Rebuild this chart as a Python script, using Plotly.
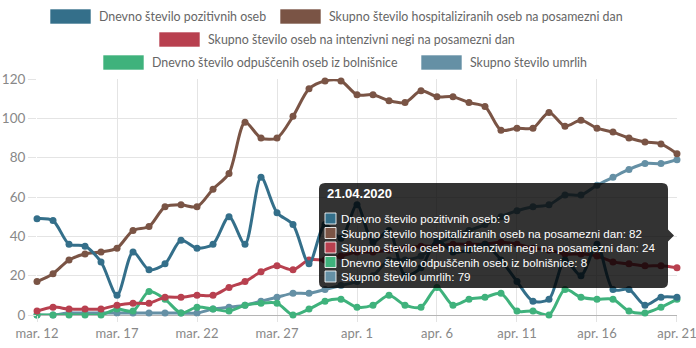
import plotly.graph_objects as go
import pandas as pd

# ---------------- data ----------------
dates = pd.date_range("2020-03-12", "2020-04-21", freq="D").strftime("%Y-%m-%d").tolist()

positive = [49, 48, 36, 35, 27, 10, 32, 23, 26, 38, 34, 36, 50, 36, 70, 52, 46, 26, 46, 39,
            56, 37, 43, 20, 24, 38, 32, 33, 36, 28, 17, 7, 8, 28, 20, 36, 13, 13, 5, 9, 9]
hospitalized = [17, 21, 28, 31, 32, 34, 43, 45, 55, 56, 55, 64, 72, 98, 90, 90, 101, 115, 119, 119,
                112, 112, 109, 108, 114, 111, 111, 108, 106, 94, 95, 95, 103, 96, 99, 95, 93, 90, 88, 87, 82]
intensive = [2, 4, 3, 3, 3, 5, 6, 6, 9, 9, 10, 10, 14, 17, 22, 25, 23, 28, 28, 30,
             32, 32, 33, 34, 35, 35, 36, 36, 36, 37, 36, 34, 33, 31, 31, 30, 27, 26, 25, 25, 24]
discharged = [0, 0, 0, 0, 0, 3, 2, 12, 8, 1, 4, 3, 2, 5, 6, 6, 0, 3, 7, 8,
              4, 5, 10, 5, 4, 14, 5, 8, 9, 11, 2, 2, 0, 13, 9, 8, 8, 2, 1, 4, 8]
deaths = [0, 0, 1, 1, 1, 1, 1, 1, 1, 1, 1, 3, 4, 5, 7, 9, 11, 11, 13, 15,
          17, 20, 28, 28, 30, 36, 40, 43, 46, 50, 53, 55, 56, 61, 61, 66, 70, 74, 77, 77, 79]

series_names = [
    "Dnevno število pozitivnih oseb",
    "Skupno število hospitaliziranih oseb na posamezni dan",
    "Skupno število oseb na intenzivni negi na posamezni dan",
    "Dnevno število odpuščenih oseb iz bolnišnice",
    "Skupno število umrlih",
]
series_values = [positive, hospitalized, intensive, discharged, deaths]
series_colors = ["#346f8a", "#7a5445", "#b8404f", "#3fb27c", "#6590a5"]

tick_dates = dates[::5]
tick_labels = ["mar. 12", "mar. 17", "mar. 22", "mar. 27", "apr. 1",
               "apr. 6", "apr. 11", "apr. 16", "apr. 21"]
y_ticks = [0, 20, 40, 60, 80, 100, 120]

# ---------------- layout helpers (pixel -> paper) ----------------
W, H = 696, 348
PL, PR, PT, PB = 37, 677, 79, 315


def px_x(px):
    return (px - PL) / (PR - PL)


def px_y(py):
    return (PB - py) / (PB - PT)


FONT = "Lato, 'Noto Sans', sans-serif"
TFONT = "'Liberation Sans', Arial, sans-serif"

fig = go.Figure()

# Chart.js draws first dataset on top -> add in reverse
for name, vals, col in reversed(list(zip(series_names, series_values, series_colors))):
    fig.add_trace(go.Scatter(
        x=dates, y=vals, name=name, mode="lines+markers",
        line=dict(color=col, width=3, shape="spline", smoothing=0.8),
        marker=dict(color=col, size=7),
        cliponaxis=False, hoverinfo="skip", showlegend=False,
    ))

shapes = []
annotations = []

# ---------------- custom legend ----------------
legend_layout = [  # (series index, rect left px, row center px)
    (0, 50, 16.5), (1, 280, 16.5),
    (2, 159, 39.5),
    (3, 103, 62.5), (4, 421, 62.5),
]
for idx, x0, yc in legend_layout:
    col = series_colors[idx]
    shapes.append(dict(type="rect", xref="paper", yref="paper",
                       x0=px_x(x0), x1=px_x(x0 + 41), y0=px_y(yc + 7.5), y1=px_y(yc - 7.5),
                       fillcolor=col, line=dict(color="rgba(255,255,255,0.6)", width=1)))
    annotations.append(dict(xref="paper", yref="paper", x=px_x(x0 + 47), y=px_y(yc),
                            xanchor="left", yanchor="middle", showarrow=False,
                            text=series_names[idx],
                            font=dict(family=FONT, size=12.4, color="#666666")))

# ---------------- tooltip ----------------
bx0, bx1, by0, by1 = 319, 668, 183, 288
r = 6
rx, ry = r / (PR - PL), r / (PB - PT)
X0, X1, YT, YB = px_x(bx0), px_x(bx1), px_y(by0), px_y(by1)
yc = px_y(235.5)
cy = 6 / (PB - PT)
xtip = px_x(674)
path = (f"M {X0+rx},{YT} L {X1-rx},{YT} Q {X1},{YT} {X1},{YT-ry} "
        f"L {X1},{yc+cy} L {xtip},{yc} L {X1},{yc-cy} "
        f"L {X1},{YB+ry} Q {X1},{YB} {X1-rx},{YB} L {X0+rx},{YB} "
        f"Q {X0},{YB} {X0},{YB+ry} L {X0},{YT-ry} Q {X0},{YT} {X0+rx},{YT} Z")
shapes.append(dict(type="path", xref="paper", yref="paper", path=path,
                   fillcolor="rgba(0,0,0,0.8)", line=dict(width=0), layer="above"))

d = pd.Timestamp(dates[-1])
annotations.append(dict(xref="paper", yref="paper", x=px_x(325), y=px_y(193),
                        xanchor="left", yanchor="middle", showarrow=False,
                        text=f"<b>{d.strftime('%d.%m.%Y')}</b>",
                        font=dict(family=TFONT, size=13, color="#ffffff")))
line_y = [218.5, 233, 247.5, 262, 276.5]
for i, (name, vals, col) in enumerate(zip(series_names, series_values, series_colors)):
    ly = line_y[i]
    shapes.append(dict(type="rect", xref="paper", yref="paper", layer="above",
                       x0=px_x(325), x1=px_x(336), y0=px_y(ly + 5.5), y1=px_y(ly - 5.5),
                       fillcolor=col, line=dict(color="rgba(255,255,255,0.85)", width=1)))
    annotations.append(dict(xref="paper", yref="paper", x=px_x(339), y=px_y(ly),
                            xanchor="left", yanchor="middle", showarrow=False,
                            text=f"{name}: {vals[-1]}",
                            font=dict(family=TFONT, size=11.6, color="#ffffff")))

x_start = pd.Timestamp(dates[0]) - pd.Timedelta(minutes=2)
x_end = pd.Timestamp(dates[-1]) + pd.Timedelta(minutes=2)

fig.update_layout(
    width=W, height=H,
    margin=dict(l=PL, r=W - PR, t=PT, b=H - PB, autoexpand=False),
    paper_bgcolor="white", plot_bgcolor="white",
    showlegend=False,
    shapes=shapes, annotations=annotations,
    xaxis=dict(type="date", range=[x_start, x_end], automargin=False,
               tickvals=tick_dates, ticktext=tick_labels, ticklabeloverflow="allow",
               showgrid=True, gridcolor="#e4e4e4", gridwidth=1,
               ticks="outside", ticklen=6, tickcolor="#e4e4e4",
               tickfont=dict(family=FONT, size=13, color="#888888"),
               zeroline=False, showline=False, fixedrange=True),
    yaxis=dict(range=[0, 120], tickvals=y_ticks, automargin=False,
               showgrid=True, gridcolor="#e4e4e4", gridwidth=1,
               ticks="outside", ticklen=8, tickcolor="#e4e4e4",
               tickfont=dict(family=FONT, size=13.5, color="#888888"),
               zeroline=True, zerolinecolor="#b5b5b5", zerolinewidth=1,
               showline=False, fixedrange=True),
)

fig.write_html("out.html")
